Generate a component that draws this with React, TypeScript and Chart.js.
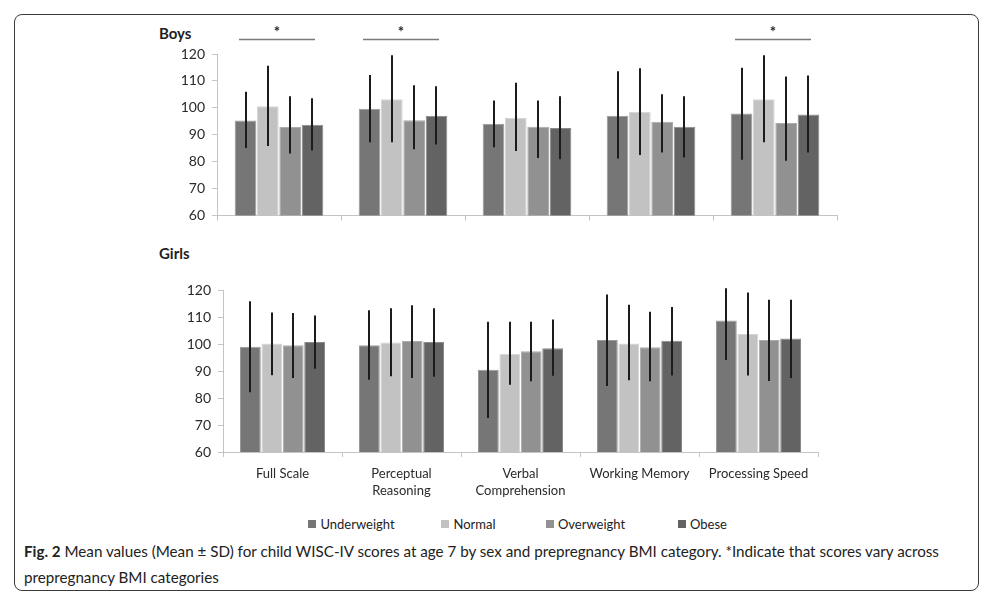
import React, { useEffect, useRef } from 'react';
import { Chart, registerables } from 'chart.js';

Chart.register(...registerables);

const FONT = 'Lato, "Open Sans", sans-serif';

// ---------- data ----------
const categories: (string | string[])[] = [
  'Full Scale',
  ['Perceptual', 'Reasoning'],
  ['Verbal', 'Comprehension'],
  'Working Memory',
  'Processing Speed',
];
const bmiGroups = ['Underweight', 'Normal', 'Overweight', 'Obese'];
const fillColors = ['#767676', '#c2c2c2', '#919191', '#636363'];
const edgeColors = ['#9a9a9a', '#d6d6d6', '#ababab', '#8a8a8a'];

const yMin = 60;
const yMax = 120;
const yStep = 10;

// Boys: mean per BMI group (Underweight, Normal, Overweight, Obese)
const boysUnderweight = [95.3, 99.7, 94.1, 97.1, 97.9];
const boysNormal = [100.6, 103.2, 96.3, 98.6, 103.2];
const boysOverweight = [92.9, 95.4, 93.0, 94.8, 94.4];
const boysObese = [93.7, 97.1, 92.5, 93.0, 97.5];
// Boys error bar ends (mean - SD, mean + SD)
const boysLow = [
  [85.1, 87.2, 85.4, 81.2, 80.7],
  [85.8, 87.2, 84.0, 82.5, 87.2],
  [83.1, 84.6, 81.4, 83.4, 80.4],
  [84.2, 86.4, 80.9, 81.6, 83.4],
];
const boysHigh = [
  [106.0, 112.2, 102.7, 113.6, 114.9],
  [115.6, 119.5, 109.3, 114.7, 119.5],
  [104.3, 108.4, 102.7, 105.1, 111.6],
  [103.6, 108.0, 104.3, 104.3, 112.0],
];
const boysSignificant = [true, true, false, false, true];

// Girls
const girlsUnderweight = [99.1, 99.6, 90.5, 101.6, 108.8];
const girlsNormal = [100.3, 100.7, 96.5, 100.3, 103.8];
const girlsOverweight = [99.6, 101.2, 97.4, 98.9, 101.6];
const girlsObese = [100.8, 100.8, 98.5, 101.3, 102.1];
const girlsLow = [
  [82.2, 86.8, 72.6, 84.5, 94.2],
  [88.5, 88.1, 85.0, 86.6, 88.4],
  [87.5, 87.5, 86.3, 86.3, 86.4],
  [90.9, 87.9, 88.3, 88.4, 87.5],
];
const girlsHigh = [
  [116.0, 112.6, 108.4, 118.5, 120.8],
  [111.8, 113.4, 108.4, 114.7, 119.2],
  [111.6, 114.5, 108.4, 112.1, 116.5],
  [110.7, 113.4, 109.2, 113.8, 116.5],
];
const girlsSignificant = [false, false, false, false, false];

// ---------- plugins ----------
function makeErrorBars(lows: number[][], highs: number[][]) {
  return {
    id: 'errorBars',
    afterDatasetsDraw(chart: any) {
      const { ctx } = chart;
      const y = chart.scales.y;
      ctx.save();
      ctx.strokeStyle = '#1c1c1c';
      ctx.lineWidth = 2;
      chart.data.datasets.forEach((_ds: any, di: number) => {
        const meta = chart.getDatasetMeta(di);
        meta.data.forEach((bar: any, i: number) => {
          const x = Math.round(bar.x);
          ctx.beginPath();
          ctx.moveTo(x, y.getPixelForValue(lows[di][i]));
          ctx.lineTo(x, y.getPixelForValue(highs[di][i]));
          ctx.stroke();
        });
      });
      ctx.restore();
    },
  };
}

function makeSignificance(flags: boolean[]) {
  return {
    id: 'significance',
    afterDraw(chart: any) {
      const { ctx } = chart;
      const x = chart.scales.x;
      const y = chart.scales.y;
      ctx.save();
      flags.forEach((flag, i) => {
        if (!flag) return;
        const cx = x.getPixelForValue(i) - 2;
        const half = 38;
        const ly = Math.round(y.getPixelForValue(125.6)) + 0.5;
        ctx.strokeStyle = '#7a7a7a';
        ctx.lineWidth = 1.5;
        ctx.beginPath();
        ctx.moveTo(cx - half, ly);
        ctx.lineTo(cx + half, ly);
        ctx.stroke();
        ctx.fillStyle = '#222';
        ctx.font = `bold 15px ${FONT}`;
        ctx.textAlign = 'center';
        ctx.textBaseline = 'middle';
        ctx.fillText('*', cx, y.getPixelForValue(128.2));
      });
      ctx.restore();
    },
  };
}

type PanelProps = {
  series: number[][];
  lows: number[][];
  highs: number[][];
  significant: boolean[];
  showLabels: boolean;
  width: number;
  height: number;
  yAxisWidth: number;
  xAxisHeight: number;
  padding: { top: number; right: number; bottom: number; left: number };
  style: React.CSSProperties;
};

function Panel(props: PanelProps) {
  const ref = useRef<HTMLCanvasElement | null>(null);
  useEffect(() => {
    if (!ref.current) return;
    const chart = new Chart(ref.current, {
      type: 'bar',
      data: {
        labels: categories as any,
        datasets: props.series.map((vals, i) => ({
          label: bmiGroups[i],
          data: vals,
          backgroundColor: fillColors[i],
          borderColor: edgeColors[i],
          borderWidth: 1,
          categoryPercentage: 0.72,
          barPercentage: 0.97,
        })),
      },
      options: {
        responsive: false,
        animation: false,
        devicePixelRatio: 1,
        layout: { padding: props.padding },
        plugins: {
          legend: { display: false },
          tooltip: { enabled: false },
          title: { display: false },
        },
        scales: {
          x: {
            grid: {
              display: true,
              offset: true,
              drawOnChartArea: false,
              drawTicks: true,
              tickLength: 5,
              color: '#c4c4c4',
            },
            border: { display: true, color: '#c4c4c4', width: 1 },
            ticks: {
              display: props.showLabels,
              color: '#2a2a2a',
              padding: 8,
              font: { family: FONT, size: 13, lineHeight: 1.3 },
              maxRotation: 0,
              autoSkip: false,
            },
            afterFit: (scale: any) => {
              scale.height = props.xAxisHeight;
            },
          },
          y: {
            min: yMin,
            max: yMax,
            grid: {
              display: true,
              drawOnChartArea: false,
              drawTicks: true,
              tickLength: 5,
              color: '#c4c4c4',
            },
            border: { display: true, color: '#c4c4c4', width: 1 },
            ticks: {
              stepSize: yStep,
              color: '#2a2a2a',
              padding: 7,
              font: { family: FONT, size: 14 },
            },
            afterFit: (scale: any) => {
              scale.width = props.yAxisWidth;
            },
          },
        },
      },
      plugins: [makeErrorBars(props.lows, props.highs), makeSignificance(props.significant)],
    });
    return () => chart.destroy();
  }, []);
  return (
    <canvas
      ref={ref}
      width={props.width}
      height={props.height}
      style={{ position: 'absolute', width: props.width, height: props.height, ...props.style }}
    />
  );
}

export default function App() {
  return (
    <div
      style={{
        position: 'absolute',
        left: 0,
        top: 0,
        width: 993,
        height: 609,
        background: '#fff',
        fontFamily: FONT,
        overflow: 'hidden',
      }}
    >
      <div
        style={{
          position: 'absolute',
          left: 14,
          top: 14,
          width: 965,
          height: 577,
          boxSizing: 'border-box',
          border: '1.5px solid #3a3a3a',
          borderRadius: 8,
        }}
      />
      <div style={{ position: 'absolute', left: 159, top: 23, fontSize: 15, fontWeight: 700, color: '#1e1e1e', lineHeight: '20px' }}>
        Boys
      </div>
      <div style={{ position: 'absolute', left: 159, top: 243, fontSize: 15, fontWeight: 700, color: '#1e1e1e', lineHeight: '20px' }}>
        Girls
      </div>
      <Panel
        series={[boysUnderweight, boysNormal, boysOverweight, boysObese]}
        lows={boysLow}
        highs={boysHigh}
        significant={boysSignificant}
        showLabels={false}
        width={700}
        height={211}
        yAxisWidth={67}
        xAxisHeight={10}
        padding={{ top: 34, right: 13, bottom: 0, left: 0 }}
        style={{ left: 150, top: 20 }}
      />
      <Panel
        series={[girlsUnderweight, girlsNormal, girlsOverweight, girlsObese]}
        lows={girlsLow}
        highs={girlsHigh}
        significant={girlsSignificant}
        showLabels={true}
        width={700}
        height={225}
        yAxisWidth={73}
        xAxisHeight={48}
        padding={{ top: 11, right: 32, bottom: 0, left: 0 }}
        style={{ left: 150, top: 275 }}
      />
      <div
        style={{
          position: 'absolute',
          left: 293,
          top: 515,
          display: 'flex',
          fontSize: 13,
          color: '#222',
          lineHeight: '18px',
        }}
      >
        {bmiGroups.map((g, i) => (
          <div key={g} style={{ width: 117, display: 'flex', justifyContent: 'center', alignItems: 'center' }}>
            <span style={{ display: 'inline-block', width: 8, height: 8, background: fillColors[i], marginRight: 4 }} />
            <span>{g}</span>
          </div>
        ))}
      </div>
      <div
        style={{
          position: 'absolute',
          left: 24,
          top: 538,
          width: 950,
          fontSize: 15.2,
          lineHeight: '26px',
          color: '#222',
          whiteSpace: 'nowrap',
        }}
      >
        <b>Fig. 2</b> Mean values (Mean ± SD) for child WISC-IV scores at age 7 by sex and prepregnancy BMI category. *Indicate that scores vary across
        <br />
        prepregnancy BMI categories
      </div>
    </div>
  );
}
